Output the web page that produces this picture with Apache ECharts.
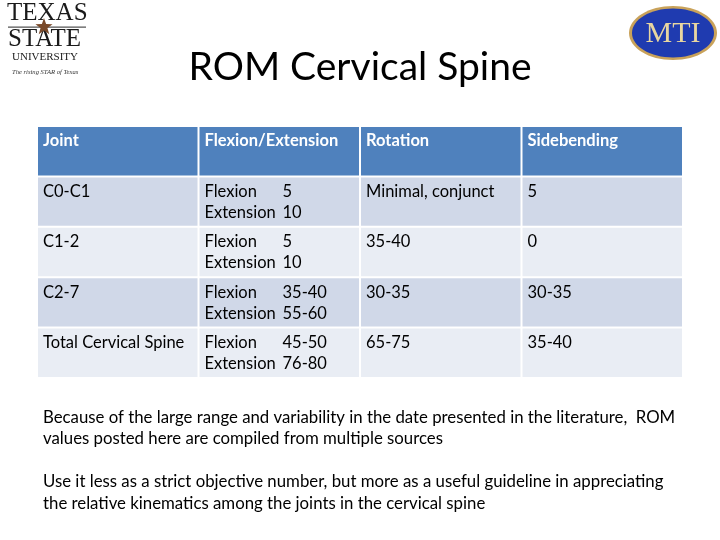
<!DOCTYPE html>
<html>
<head>
<meta charset="utf-8">
<script src="https://cdn.jsdelivr.net/npm/echarts@6/dist/echarts.min.js"></script>
<style>html,body{margin:0;padding:0;background:#fff}#c{width:720px;height:540px}</style>
</head>
<body>
<div id="c"></div>
<script>
const titleText = 'ROM Cervical Spine';
const headers = ['Joint', 'Flexion/Extension', 'Rotation', 'Sidebending'];
const joints = ['C0-C1', 'C1-2', 'C2-7', 'Total Cervical Spine'];
const flexion = ['5', '5', '35-40', '45-50'];
const extension = ['10', '10', '55-60', '76-80'];
const rotation = ['Minimal, conjunct', '35-40', '30-35', '65-75'];
const sidebending = ['5', '0', '30-35', '35-40'];
const rowLabels = ['header', 'r1', 'r2', 'r3', 'r4'];
const notes = [
  'Because of the large range and variability in the date presented in the literature,  ROM',
  'values posted here are compiled from multiple sources',
  '',
  'Use it less as a strict objective number, but more as a useful guideline in appreciating',
  'the relative kinematics among the joints in the cervical spine'
];

const FONT = 'Lato';
const FS = '16.5px ';
const cells = [];
for (let r = 0; r < rowLabels.length; r++) {
  for (let c = 0; c < headers.length; c++) cells.push([c, r]);
}

function cellText(c, r) {
  if (r === 0) return {lines: [headers[c]]};
  const i = r - 1;
  if (c === 0) return {lines: [joints[i]]};
  if (c === 1) return {pairs: [['Flexion', flexion[i]], ['Extension', extension[i]]]};
  if (c === 2) return {lines: [rotation[i]]};
  return {lines: [sidebending[i]]};
}

function renderItem(params, api) {
  const c = api.value(0), r = api.value(1);
  const p = api.coord([c, r]);
  const s = api.size([1, 1]);
  const x0 = p[0] - s[0] / 2, y0 = p[1] - s[1] / 2;
  const fill = r === 0 ? '#4F81BD' : (r % 2 === 1 ? '#D0D8E8' : '#E9EDF4');
  const children = [{
    type: 'rect',
    shape: {x: x0 + 1, y: y0 + 1, width: s[0] - 2, height: s[1] - 2},
    style: {fill: fill}
  }];
  const t = cellText(c, r);
  const color = r === 0 ? '#ffffff' : '#000000';
  const weight = r === 0 ? 'bold ' : '';
  if (t.lines) {
    children.push({
      type: 'text',
      style: {x: x0 + 6, y: y0 + 15, text: t.lines[0], fill: color,
        font: weight + FS + FONT, verticalAlign: 'middle', align: 'left'}
    });
  } else {
    t.pairs.forEach(function (pr, k) {
      children.push({type: 'text', style: {x: x0 + 6, y: y0 + 15 + k * 21, text: pr[0], fill: color,
        font: FS + FONT, verticalAlign: 'middle'}});
      children.push({type: 'text', style: {x: x0 + 84, y: y0 + 15 + k * 21, text: pr[1], fill: color,
        font: FS + FONT, verticalAlign: 'middle'}});
    });
  }
  return {type: 'group', children: children};
}

const chart = echarts.init(document.getElementById('c'), null, {renderer: 'canvas'});
const noteGraphics = notes.map(function (n, i) {
  return {type: 'text', left: 43, top: 409 + i * 21.5,
    style: {text: n, font: '16.8px ' + FONT, fill: '#000'}};
});

chart.setOption({
  backgroundColor: '#ffffff',
  animation: false,
  title: {
    text: titleText, left: 'center', top: 43,
    textStyle: {fontFamily: FONT, fontSize: 39, fontWeight: 'normal', color: '#000'}
  },
  grid: {left: 37, right: 37, top: 126, bottom: 162},
  xAxis: {type: 'category', data: headers, show: false},
  yAxis: {type: 'category', data: rowLabels, inverse: true, show: false},
  series: [{type: 'custom', renderItem: renderItem, data: cells, silent: true}],
  graphic: [
    // Texas State logo
    {type: 'text', left: 7, top: 1, style: {text: 'TEXAS', font: '25px "Liberation Serif"', fill: '#1a1a1a'}},
    {type: 'rect', shape: {x: 8, y: 26.5, width: 78, height: 1.2}, style: {fill: '#555'}},
    {type: 'text', left: 8, top: 27, style: {text: 'STATE', font: '25px "Liberation Serif"', fill: '#1a1a1a'}},
    {type: 'text', left: 12, top: 52, style: {text: 'UNIVERSITY', font: '11px "Liberation Serif"', fill: '#1a1a1a'}},
    {type: 'text', left: 12, top: 69, style: {text: 'The rising STAR of Texas', font: 'italic 6.6px "Liberation Serif"', fill: '#333'}},
    {type: 'polygon', shape: {points: (function () {
      const pts = [], cx = 44, cy = 27, R = 9, r2 = 3.6;
      for (let i = 0; i < 10; i++) {
        const a = -Math.PI / 2 + i * Math.PI / 5, rr = i % 2 ? r2 : R;
        pts.push([cx + rr * Math.cos(a), cy + rr * Math.sin(a)]);
      }
      return pts;
    })()}, style: {fill: '#7a4a2a'}},
    // MTI logo
    {type: 'ellipse', shape: {cx: 673, cy: 33, rx: 44, ry: 27}, style: {fill: '#c9a25a'}},
    {type: 'ellipse', shape: {cx: 673, cy: 33, rx: 41, ry: 24.5}, style: {fill: '#1f3bb0'}},
    {type: 'text', x: 673, y: 34, style: {text: 'MTI', font: '30px "Liberation Serif"', fill: '#e8d6a0',
      align: 'center', verticalAlign: 'middle'}}
  ].concat(noteGraphics)
});
</script>
</body>
</html>
